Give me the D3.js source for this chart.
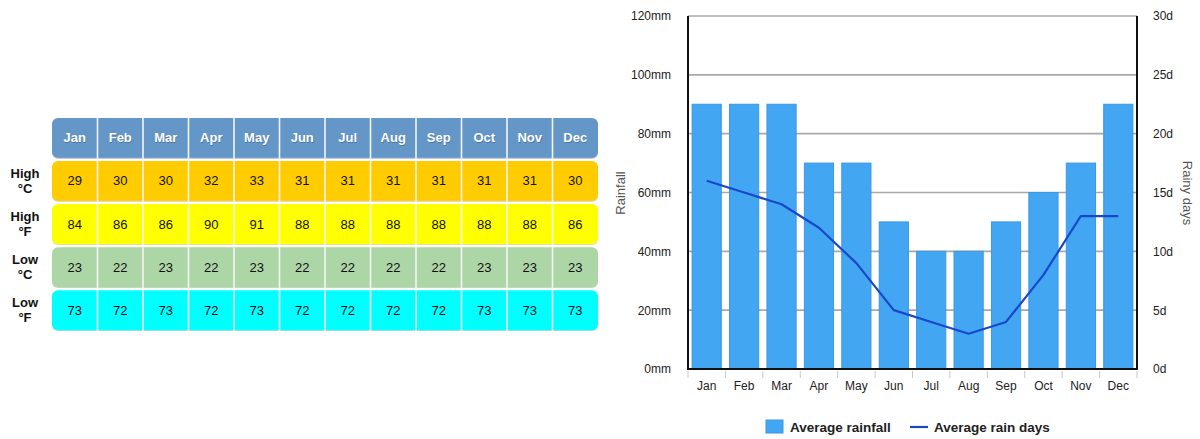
<!DOCTYPE html>
<html>
<head>
<meta charset="utf-8">
<script src="https://cdn.jsdelivr.net/npm/d3@7"></script>
<style>
  html, body { margin: 0; padding: 0; background: #fff; }
  svg { display: block; font-family: "Liberation Sans", Arial, sans-serif; }
</style>
</head>
<body>
<svg id="chart" width="1200" height="439"></svg>
<script>
// Monthly climate data
const months = ["Jan","Feb","Mar","Apr","May","Jun","Jul","Aug","Sep","Oct","Nov","Dec"];
const highC = [29,30,30,32,33,31,31,31,31,31,31,30];
const highF = [84,86,86,90,91,88,88,88,88,88,88,86];
const lowC  = [23,22,23,22,23,22,22,22,22,23,23,23];
const lowF  = [73,72,73,72,73,72,72,72,72,73,73,73];
const rainfall = [90,90,90,70,70,50,40,40,50,60,70,90];   // mm
const rainDays = [16,15,14,12,9,5,4,3,4,8,13,13];         // days
const rainTicks = [0,20,40,60,80,100,120];
const dayTicks = [0,5,10,15,20,25,30];

const svg = d3.select("#chart");

/* ---------- temperature table ---------- */
const table = svg.append("g");
const colX = d3.scaleBand().domain(months).range([52, 598]);
const rows = [
  { label: ["High", "°C"], values: highC, fill: "#ffcc00" },
  { label: ["High", "°F"], values: highF, fill: "#ffff00" },
  { label: ["Low",  "°C"], values: lowC,  fill: "#add6a7" },
  { label: ["Low",  "°F"], values: lowF,  fill: "#00ffff" }
];
const rowY = d3.scaleBand().domain(d3.range(5)).range([118, 330]).paddingInner(0.075);

function drawRow(g, y, fill, edge) {
  // slight shadow underneath
  g.append("rect").attr("x", colX.range()[0]).attr("y", y + 1)
    .attr("width", colX.range()[1] - colX.range()[0]).attr("height", rowY.bandwidth())
    .attr("rx", 6).attr("fill", edge).attr("opacity", 0.45);
  g.append("rect").attr("x", colX.range()[0]).attr("y", y)
    .attr("width", colX.range()[1] - colX.range()[0]).attr("height", rowY.bandwidth())
    .attr("rx", 6).attr("fill", fill);
  g.selectAll(null).data(months.slice(1)).join("line")
    .attr("x1", d => colX(d)).attr("x2", d => colX(d))
    .attr("y1", y).attr("y2", y + rowY.bandwidth() + 1)
    .attr("stroke", "#f4f4f4").attr("stroke-width", 1.6);
}

// header row
const headG = table.append("g");
drawRow(headG, rowY(0), "#6497c8", "#3f6f9f");
headG.selectAll("text.sh").data(months).join("text")
  .attr("x", d => colX(d) + colX.bandwidth() / 2 + 0.6)
  .attr("y", rowY(0) + rowY.bandwidth() / 2 + 0.8)
  .attr("text-anchor", "middle").attr("dominant-baseline", "central")
  .attr("font-size", 13).attr("font-weight", "bold").attr("fill", "#3d5f82").attr("opacity", 0.6)
  .text(d => d);
headG.selectAll("text.m").data(months).join("text")
  .attr("x", d => colX(d) + colX.bandwidth() / 2)
  .attr("y", rowY(0) + rowY.bandwidth() / 2)
  .attr("text-anchor", "middle").attr("dominant-baseline", "central")
  .attr("font-size", 13).attr("font-weight", "bold").attr("fill", "#ffffff")
  .text(d => d);

rows.forEach((r, i) => {
  const y = rowY(i + 1);
  const g = table.append("g");
  drawRow(g, y, r.fill, d3.color(r.fill).darker(0.8));
  g.selectAll("text.v").data(r.values).join("text")
    .attr("x", (d, j) => colX(months[j]) + colX.bandwidth() / 2)
    .attr("y", y + rowY.bandwidth() / 2)
    .attr("text-anchor", "middle").attr("dominant-baseline", "central")
    .attr("font-size", 13).attr("fill", "#111")
    .text(d => d);
  const lab = g.append("text").attr("text-anchor", "middle")
    .attr("font-size", 13).attr("font-weight", "bold").attr("fill", "#111");
  lab.append("tspan").attr("x", 25).attr("y", y + rowY.bandwidth() / 2 - 3).text(r.label[0]);
  lab.append("tspan").attr("x", 25).attr("y", y + rowY.bandwidth() / 2 + 12).text(r.label[1]);
});

/* ---------- rainfall chart ---------- */
const plotL = 688, plotR = 1137, plotT = 16, plotB = 369;
const x = d3.scaleBand().domain(months).range([plotL, plotR]).paddingInner(0.22).paddingOuter(0.11);
const yRain = d3.scaleLinear().domain([0, 120]).range([plotB, plotT]);
const yDays = d3.scaleLinear().domain([0, 30]).range([plotB, plotT]);

const chart = svg.append("g");

// horizontal gridlines
chart.append("g").selectAll("line").data(rainTicks.slice(1)).join("line")
  .attr("x1", plotL).attr("x2", plotR)
  .attr("y1", d => yRain(d)).attr("y2", d => yRain(d))
  .attr("stroke", "#a9a9a9").attr("stroke-width", 1.6);

// bars
chart.append("g").selectAll("rect").data(rainfall).join("rect")
  .attr("x", (d, i) => x(months[i]))
  .attr("y", d => yRain(d))
  .attr("width", x.bandwidth())
  .attr("height", d => plotB - yRain(d))
  .attr("fill", "#42a6f3")
  .attr("stroke", "#3b97e4").attr("stroke-width", 1);

// rain-days line
const line = d3.line()
  .x((d, i) => x(months[i]) + x.bandwidth() / 2)
  .y(d => yDays(d));
chart.append("path").datum(rainDays)
  .attr("d", line)
  .attr("fill", "none").attr("stroke", "#1848c8").attr("stroke-width", 2.2)
  .attr("stroke-linejoin", "round");

// frame lines
chart.append("line").attr("x1", plotL).attr("x2", plotL).attr("y1", plotT).attr("y2", plotB + 1)
  .attr("stroke", "#111").attr("stroke-width", 2);
chart.append("line").attr("x1", plotR).attr("x2", plotR).attr("y1", plotT).attr("y2", plotB + 1)
  .attr("stroke", "#111").attr("stroke-width", 2);
chart.append("line").attr("x1", plotL - 1).attr("x2", plotR + 1).attr("y1", plotB).attr("y2", plotB)
  .attr("stroke", "#111").attr("stroke-width", 2);

// x tick marks at band boundaries
const step = (plotR - plotL) / months.length;
chart.append("g").selectAll("line").data(d3.range(months.length + 1)).join("line")
  .attr("x1", i => plotL + i * step).attr("x2", i => plotL + i * step)
  .attr("y1", plotB + 2).attr("y2", plotB + 9)
  .attr("stroke", "#c8c8c8").attr("stroke-width", 1);

// x axis labels
const xAxis = chart.append("g").attr("transform", `translate(0,${plotB})`)
  .call(d3.axisBottom(x).tickSize(0).tickPadding(12));
xAxis.select(".domain").remove();
xAxis.selectAll("text").attr("font-size", 12).attr("fill", "#222")
  .attr("font-family", "Liberation Sans, Arial, sans-serif");

// left axis labels
const yAxisL = chart.append("g").attr("transform", `translate(${plotL},0)`)
  .call(d3.axisLeft(yRain).tickValues(rainTicks).tickFormat(d => d + "mm").tickSize(0).tickPadding(17));
yAxisL.select(".domain").remove();
yAxisL.selectAll("text").attr("font-size", 12).attr("fill", "#222")
  .attr("font-family", "Liberation Sans, Arial, sans-serif");

// right axis labels
const yAxisR = chart.append("g").attr("transform", `translate(${plotR},0)`)
  .call(d3.axisRight(yDays).tickValues(dayTicks).tickFormat(d => d + "d").tickSize(0).tickPadding(16));
yAxisR.select(".domain").remove();
yAxisR.selectAll("text").attr("font-size", 12).attr("fill", "#222")
  .attr("font-family", "Liberation Sans, Arial, sans-serif");

// axis titles
chart.append("text").attr("transform", "translate(625,193) rotate(-90)")
  .attr("text-anchor", "middle").attr("font-size", 13).attr("fill", "#555").text("Rainfall");
chart.append("text").attr("transform", "translate(1183,193) rotate(90)")
  .attr("text-anchor", "middle").attr("font-size", 13).attr("fill", "#555").text("Rainy days");

// legend
const legend = chart.append("g");
legend.append("rect").attr("x", 766).attr("y", 420).attr("width", 17).attr("height", 13)
  .attr("fill", "#42a6f3").attr("stroke", "#3b97e4");
legend.append("text").attr("x", 790).attr("y", 432).attr("font-size", 13.5).attr("font-weight", "bold")
  .attr("fill", "#222").text("Average rainfall");
legend.append("line").attr("x1", 910).attr("x2", 928).attr("y1", 427).attr("y2", 427)
  .attr("stroke", "#1848c8").attr("stroke-width", 2.2);
legend.append("text").attr("x", 934).attr("y", 432).attr("font-size", 13.5).attr("font-weight", "bold")
  .attr("fill", "#222").text("Average rain days");
</script>
</body>
</html>
